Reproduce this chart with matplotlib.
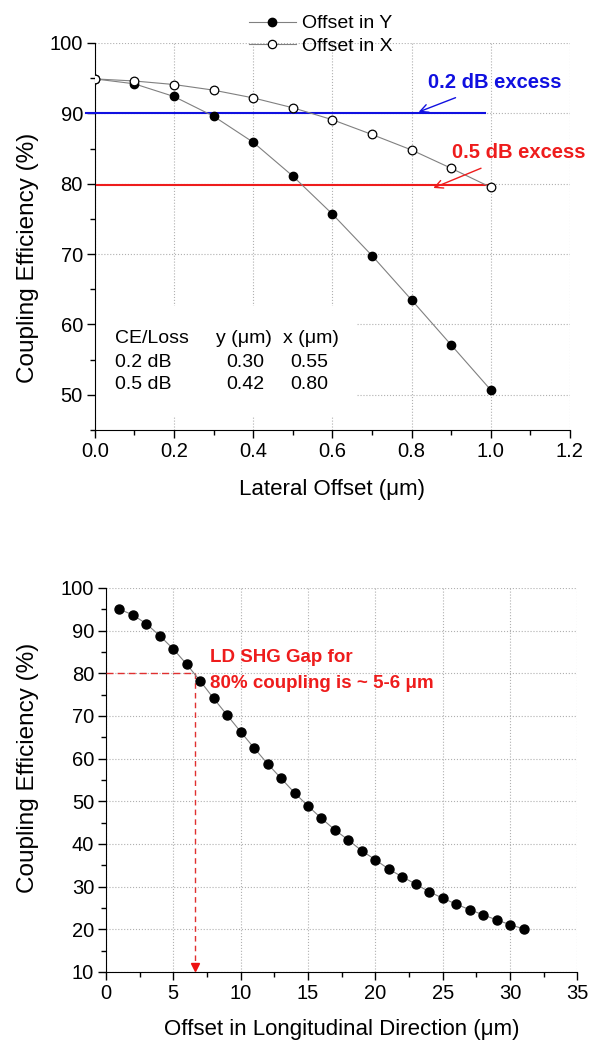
import matplotlib.pyplot as plt
from matplotlib.lines import Line2D
from matplotlib.patches import Rectangle
from matplotlib.ticker import MultipleLocator

plt.rcParams['font.family'] = ['Liberation Sans', 'DejaVu Sans']

# lateral offset data (top chart)
lat_x = [0.0, 0.1, 0.2, 0.3, 0.4, 0.5, 0.6, 0.7, 0.8, 0.9, 1.0]
ce_offset_y = [94.9, 94.2, 92.4, 89.6, 85.9, 81.1, 75.7, 69.8, 63.5, 57.1, 50.7]
ce_offset_x = [94.9, 94.6, 94.1, 93.3, 92.2, 90.8, 89.1, 87.0, 84.8, 82.2, 79.5]
legend_labels = ['Offset in Y', 'Offset in X']

excess_02 = 90.0
excess_05 = 79.8

table_rows = [['CE/Loss', 'y (\u03bcm)', 'x (\u03bcm)'],
              ['0.2 dB', '0.30', '0.55'],
              ['0.5 dB', '0.42', '0.80']]

# longitudinal offset data (bottom chart)
long_x = list(range(1, 32))
ce_long = [95.0, 93.7, 91.6, 88.8, 85.7, 82.1, 78.2, 74.1, 70.2, 66.3,
           62.5, 58.8, 55.4, 52.0, 48.9, 46.0, 43.3, 40.9, 38.4, 36.3,
           34.1, 32.3, 30.6, 28.8, 27.3, 25.9, 24.6, 23.4, 22.2, 21.1, 20.1]
gap_x = 6.6
gap_ce = 80.0

fig = plt.figure(figsize=(5.89, 10.41), dpi=100)

grid_kw = dict(linestyle=':', color='#b0b0b0', linewidth=0.8)
line_kw = dict(color='#808080', linewidth=0.8)
tick_fs = 14.5


def style_axes(ax):
    ax.grid(True, which='major', **grid_kw)
    ax.set_axisbelow(True)
    for s in ['top', 'right']:
        ax.spines[s].set_visible(False)
    ax.tick_params(which='major', direction='out', length=6, width=1, pad=2.5,
                   labelsize=tick_fs)
    ax.tick_params(which='minor', direction='out', length=3.5, width=1)


# ---------------- top chart ----------------
ax1 = fig.add_axes([0.1608, 0.5869, 0.8068, 0.3718])
ax1.plot(lat_x, ce_offset_y, marker='o', markersize=6, markerfacecolor='black',
         markeredgecolor='black', zorder=4, **line_kw)
ax1.plot(lat_x, ce_offset_x, marker='o', markersize=6.2, markerfacecolor='white',
         markeredgecolor='black', markeredgewidth=0.9, zorder=4, **line_kw)
ax1.plot([-0.023, 0.985], [excess_02, excess_02], color='#1010e0', linewidth=1.5, zorder=3,
         clip_on=False)
ax1.plot([0.006, 0.993], [excess_05, excess_05], color='#ee1c1c', linewidth=1.5, zorder=3)

ax1.set_xlim(0, 1.2)
ax1.set_ylim(45, 100)
ax1.xaxis.set_major_locator(MultipleLocator(0.2))
ax1.xaxis.set_minor_locator(MultipleLocator(0.1))
ax1.yaxis.set_minor_locator(MultipleLocator(5))
ax1.set_yticks([50, 60, 70, 80, 90, 100])
ax1.xaxis.set_major_formatter(plt.FormatStrFormatter('%.1f'))
style_axes(ax1)
ax1.set_xlabel('Lateral Offset (\u03bcm)', fontsize=16)
ax1.set_ylabel('Coupling Efficiency (%)', fontsize=17.5)
ax1.xaxis.set_label_coords(0.5, -0.127)
ax1.yaxis.set_label_coords(-0.117, 0.446)

# table with white background
ax1.add_patch(Rectangle((0.002, 47.0), 0.66, 15.6, facecolor='white', edgecolor='none', zorder=2))
col_x = [[0.051, 0.306, 0.475],
         [0.051, 0.331, 0.493],
         [0.051, 0.331, 0.493]]
row_y = [58.0, 54.6, 51.4]
for r, row in enumerate(table_rows):
    for c, txt in enumerate(row):
        ax1.text(col_x[r][c], row_y[r], txt, fontsize=14, ha='left', va='center', zorder=5)

ax1.annotate('0.2 dB excess', xy=(0.818, 90.2), xytext=(1.011, 94.4),
             ha='center', va='center', color='#1010e0', fontsize=14.5, fontweight='bold',
             arrowprops=dict(arrowstyle='->', color='#1010e0', lw=1, shrinkA=6, shrinkB=0),
             annotation_clip=False, zorder=6)
ax1.annotate('0.5 dB excess', xy=(0.855, 79.4), xytext=(1.07, 84.4),
             ha='center', va='center', color='#ee1c1c', fontsize=14.5, fontweight='bold',
             arrowprops=dict(arrowstyle='->', color='#ee1c1c', lw=1, shrinkA=6, shrinkB=0),
             annotation_clip=False, zorder=6)

handles = [Line2D([], [], marker='o', markersize=6, markerfacecolor='black',
                  markeredgecolor='black', **line_kw),
           Line2D([], [], marker='o', markersize=6, markerfacecolor='white',
                  markeredgecolor='black', markeredgewidth=0.9, **line_kw)]
fig.legend(handles, legend_labels, loc='upper left', bbox_to_anchor=(0.403, 0.997),
           frameon=False, fontsize=14, handlelength=2.4, handletextpad=0.3,
           labelspacing=0.25, borderaxespad=0.2)

# ---------------- bottom chart ----------------
ax2 = fig.add_axes([0.1798, 0.0663, 0.8005, 0.3689])
ax2.plot(long_x, ce_long, marker='o', markersize=6.5, markerfacecolor='black',
         markeredgecolor='black', zorder=4, **line_kw)
ax2.set_xlim(0, 35)
ax2.set_ylim(10, 100)
ax2.xaxis.set_major_locator(MultipleLocator(5))
ax2.xaxis.set_minor_locator(MultipleLocator(2.5))
ax2.yaxis.set_major_locator(MultipleLocator(10))
ax2.yaxis.set_minor_locator(MultipleLocator(5))
style_axes(ax2)
ax2.set_xlabel('Offset in Longitudinal Direction (\u03bcm)', fontsize=16)
ax2.set_ylabel('Coupling Efficiency (%)', fontsize=17.5)
ax2.xaxis.set_label_coords(0.5, -0.122)
ax2.yaxis.set_label_coords(-0.142, 0.531)

ax2.plot([0, gap_x], [gap_ce, gap_ce], color='#e03030', linestyle=(0, (5, 3)), linewidth=1, zorder=3)
ax2.plot([gap_x, gap_x], [gap_ce, 11], color='#e03030', linestyle=(0, (4, 3)), linewidth=1, zorder=3)
ax2.plot([gap_x], [11.2], marker='v', markersize=6, color='#ee1010', zorder=5, clip_on=False)
ax2.text(7.75, 83.6, 'LD SHG Gap for', color='#ee1c1c', fontsize=13.5, fontweight='bold',
         ha='left', va='center')
ax2.text(7.75, 77.7, '80% coupling is ~ 5-6 \u03bcm', color='#ee1c1c', fontsize=13.5,
         fontweight='bold', ha='left', va='center')

fig.savefig('out.png', dpi=100)
